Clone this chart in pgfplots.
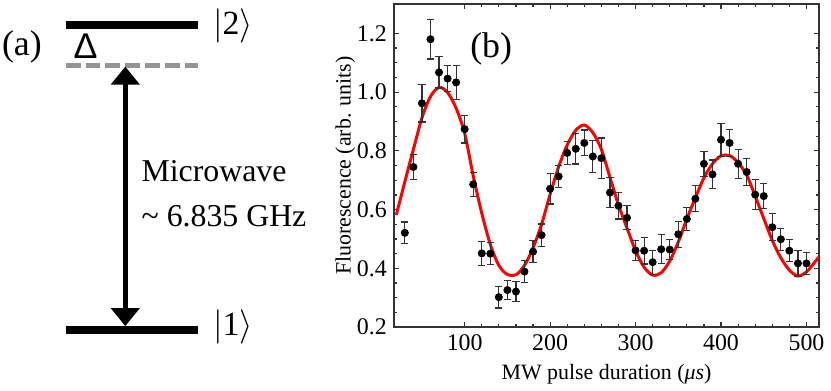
\documentclass[border=0pt]{standalone}
\usepackage{fontspec}
\setmainfont{Liberation Serif}
\newfontfamily\sansf{Liberation Sans}
\usepackage{pgfplots}
\pgfplotsset{compat=1.18}
\usepackage{pgfplotstable}
\usetikzlibrary{arrows.meta}

% measured fluorescence with error bars
\pgfplotstableread{
x y e
30 0.521 0.037
40 0.745 0.043
50 0.962 0.064
60 1.180 0.067
70 1.067 0.053
80 1.046 0.045
90 1.033 0.058
100 0.874 0.047
110 0.686 0.040
120 0.451 0.041
130 0.450 0.038
140 0.302 0.037
150 0.326 0.032
160 0.321 0.035
170 0.389 0.037
180 0.457 0.037
190 0.513 0.038
200 0.671 0.052
210 0.713 0.038
220 0.793 0.040
230 0.807 0.052
240 0.827 0.044
250 0.781 0.055
260 0.775 0.069
270 0.658 0.051
280 0.613 0.045
290 0.572 0.041
300 0.461 0.033
310 0.460 0.045
320 0.421 0.041
330 0.465 0.049
340 0.464 0.034
350 0.516 0.044
360 0.568 0.040
370 0.637 0.044
380 0.756 0.043
390 0.720 0.049
400 0.838 0.056
410 0.827 0.045
420 0.756 0.050
430 0.728 0.046
440 0.651 0.051
450 0.646 0.042
460 0.540 0.046
470 0.499 0.037
480 0.460 0.037
490 0.417 0.044
500 0.417 0.038
}\rabidata

% fitted curve
\pgfplotstableread{
x y
20 0.582
30 0.695
40 0.805
50 0.912
60 0.985
70 1.016
80 0.999
90 0.945
100 0.860
110 0.715
120 0.588
130 0.482
140 0.410
150 0.379
160 0.378
170 0.410
180 0.470
190 0.550
200 0.652
210 0.746
220 0.820
230 0.870
240 0.888
250 0.862
260 0.805
270 0.710
280 0.616
290 0.537
300 0.460
310 0.404
320 0.377
330 0.385
340 0.425
350 0.490
360 0.568
370 0.640
380 0.708
390 0.756
400 0.783
410 0.784
420 0.760
430 0.718
440 0.646
450 0.570
460 0.495
470 0.436
480 0.394
490 0.374
500 0.388
510 0.422
515 0.440
}\fitcurve

\begin{document}
\begin{tikzpicture}
\begin{scope}[x=0.5pt,y=-0.5pt]
\useasboundingbox (0,0) rectangle (831,387);
% (a) level scheme
\draw[line width=4pt] (66,25) -- (199,25);
\draw[line width=4pt] (66,332) -- (199,332);
\draw[black!42, line width=2.5pt, dash pattern=on 7.5pt off 2.5pt] (66,66) -- (199,66);
\draw[line width=2.5pt, {Triangle[length=9pt,width=14pt]}-{Triangle[length=9pt,width=14pt]}] (126,67) -- (126,328);
\node[inner sep=0, font=\fontsize{18}{20}\selectfont] at (22,47) {(a)};
\node[inner sep=0, font=\sansf\fontsize{18}{20}\selectfont] at (86,46) {Δ};
\node[inner sep=0, anchor=west, font=\fontsize{17}{19}\selectfont] at (214,26) {$|$2$\rangle$};
\node[inner sep=0, anchor=west, font=\fontsize{17}{19}\selectfont] at (214,329) {$|$1$\rangle$};
\node[inner sep=0, anchor=base west, font=\fontsize{16}{18}\selectfont] at (142,183) {Microwave};
\node[inner sep=0, anchor=base west, font=\fontsize{16}{18}\selectfont] at (142,228) {\textasciitilde{} 6.835 GHz};
\end{scope}

% (b) Rabi oscillation
\begin{axis}[
    at={(198pt,-2pt)}, anchor=north west,
    scale only axis, width=214pt, height=162.5pt,
    xmin=17, xmax=515, ymin=0.2, ymax=1.3,
    xtick={100,200,300,400,500},
    ytick={0.2,0.4,0.6,0.8,1.0,1.2},
    minor x tick num=4, minor y tick num=3,
    tick align=inside, tick pos=both,
    major tick length=2.5pt, minor tick length=1.5pt,
    axis line style={line width=0.9pt, black!80},
    every tick/.style={black!80, line width=0.6pt},
    /pgf/number format/assume math mode=true,
    yticklabel style={/pgf/number format/.cd, fixed, fixed zerofill, precision=1},
    tick label style={font=\fontsize{12}{14}\selectfont},
    label style={font=\fontsize{11}{13}\selectfont},
    xlabel={MW pulse duration (\textit{μs})},
    ylabel={Fluorescence (arb. units)},
    ylabel shift=-6pt,
]
\addplot[red, line width=1.5pt, smooth] table[x=x, y=y] {\fitcurve};
\addplot[only marks, mark=*, mark size=1.8pt, black,
    error bars/.cd, y dir=both, y explicit,
    error bar style={line width=0.6pt, black!80},
    error mark options={rotate=90, mark size=1.8pt, line width=0.6pt, black!80}]
    table[x=x, y=y, y error=e] {\rabidata};
\node[font=\fontsize{18}{20}\selectfont] at (rel axis cs:0.229,0.862) {(b)};
\end{axis}
\end{tikzpicture}
\end{document}
